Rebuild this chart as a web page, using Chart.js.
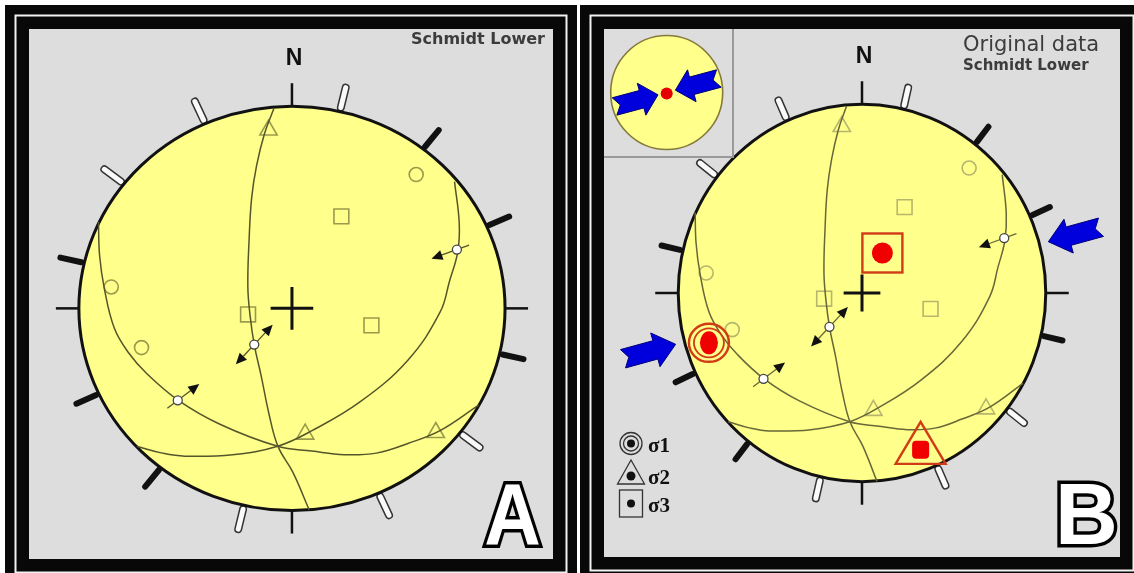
<!DOCTYPE html>
<html>
<head>
<meta charset="utf-8">
<title>Stereonets A / B</title>
<script src="https://cdn.jsdelivr.net/npm/chart.js@4.4.1/dist/chart.umd.min.js"></script>
<style>
  html, body { margin: 0; padding: 0; background: #fff; overflow: hidden; }
  body { width: 1134px; height: 573px; position: relative; }
  canvas { position: absolute; }
  #netA { left: 5px; top: 5px; }
  #netB { left: 580px; top: 5px; }
</style>
</head>
<body>
<canvas id="netA" width="572" height="578"></canvas>
<canvas id="netB" width="564" height="576"></canvas>
<script>
// ==========================================
// Net data - unit circle coordinates (x = east, y = north)
// ==========================================
const plane1X = [-0.084, -0.129, -0.166, -0.189, -0.201, -0.207, -0.196, -0.177, -0.144, -0.107, -0.065, 0.004, 0.081];
const plane1Y = [0.991, 0.864, 0.706, 0.548, 0.343, 0.106, -0.040, -0.179, -0.336, -0.526, -0.684, -0.810, -0.997];
const plane2X = [-0.908, -0.903, -0.881, -0.833, -0.765, -0.683, -0.533, -0.338, -0.067, 0.094, 0.246, 0.396, 0.544, 0.695, 0.876];
const plane2Y = [0.427, 0.265, 0.100, -0.100, -0.222, -0.321, -0.455, -0.573, -0.682, -0.706, -0.724, -0.716, -0.668, -0.605, -0.479];
const plane3X = [-0.728, -0.608, -0.503, -0.279, -0.067, 0.094, 0.319, 0.544, 0.695, 0.740, 0.778, 0.785, 0.763];
const plane3Y = [-0.682, -0.716, -0.731, -0.724, -0.682, -0.605, -0.463, -0.256, -0.019, 0.137, 0.280, 0.422, 0.627];

// poles (triangles, circles, squares)
const triX = [-0.110, 0.062, 0.675];
const triY = [0.882, -0.622, -0.614];
const ringX = [0.583, -0.848, -0.706];
const ringY = [0.662, 0.106, -0.194];
const boxX = [0.232, -0.206, 0.373];
const boxY = [0.455, -0.030, -0.084];

// slip lineations on the planes
const slipX = [0.774, -0.177, -0.536];
const slipY = [0.291, -0.179, -0.455];
const slipDir = [200, 47, 37];          // screen angle, deg anticlockwise from east
const slipTwoWay = [false, true, false];

// marks round the primitive (azimuth, deg)
const solidAz = [38, 66, 103, 218, 245, 283];
const hollowAz = [13, 128, 156, 193, 308, 336];

// principal stresses
const sigmaNames = ['σ1', 'σ2', 'σ3'];
const sigmaX = [-0.833, 0.319, 0.111];
const sigmaY = [-0.264, -0.831, 0.212];
const shortenAz = 75;

// ==========================================
// Colours
// ==========================================
const GREY = '#dddddd';
const YELLOW = '#ffff8c';
const INK = '#111111';
const RED = '#f00000';
const RED_EDGE = '#d03c16';
const BLUE = '#0000dc';

function pts(xs, ys) {
    return xs.map((x, i) => ({ x, y: ys[i] }));
}

// ==========================================
// Drawing helpers
// ==========================================
function geom(chart) {
    const xs = chart.scales.x, ys = chart.scales.y;
    const cx = xs.getPixelForValue(0), cy = ys.getPixelForValue(0);
    return {
        cx, cy,
        rx: xs.getPixelForValue(1) - cx,
        ry: cy - ys.getPixelForValue(1),
        P: (x, y) => [xs.getPixelForValue(x), ys.getPixelForValue(y)]
    };
}

function drawFrame(ctx, w, h) {
    ctx.fillStyle = '#080808';
    ctx.fillRect(0, 0, w, h);
    ctx.strokeStyle = '#f2f2f2';
    ctx.lineWidth = 2;
    ctx.strokeRect(10.5, 10.5, w - 21, h - 21);
    ctx.fillStyle = GREY;
    ctx.fillRect(24, 24, w - 48, h - 48);
}

function azTick(ctx, g, az, from, len) {
    const a = az * Math.PI / 180;
    const ux = Math.sin(a), uy = Math.cos(a);
    const [bx, by] = g.P(ux, uy);
    let dx = ux * g.rx, dy = -uy * g.ry;
    const d = Math.hypot(dx, dy);
    dx /= d; dy /= d;
    ctx.beginPath();
    ctx.moveTo(bx + dx * from, by + dy * from);
    ctx.lineTo(bx + dx * (from + len), by + dy * (from + len));
    ctx.stroke();
}

function drawNetBase(ctx, g) {
    const tickLen = 0.118 * (g.rx + g.ry) / 2;

    // disc
    ctx.fillStyle = YELLOW;
    ctx.beginPath();
    ctx.ellipse(g.cx, g.cy, g.rx, g.ry, 0, 0, Math.PI * 2);
    ctx.fill();

    // N / E / S / W marks
    ctx.strokeStyle = INK;
    ctx.lineWidth = 2.5;
    ctx.lineCap = 'butt';
    [0, 90, 180, 270].forEach(az => azTick(ctx, g, az, 0, 23));

    // solid marks
    ctx.lineCap = 'round';
    ctx.lineWidth = 6;
    ctx.strokeStyle = INK;
    solidAz.forEach(az => azTick(ctx, g, az, 3, tickLen - 3));

    // hollow marks
    hollowAz.forEach(az => {
        ctx.lineWidth = 8;
        ctx.strokeStyle = '#333';
        azTick(ctx, g, az, 4, tickLen - 4);
        ctx.lineWidth = 5;
        ctx.strokeStyle = '#fafafa';
        azTick(ctx, g, az, 4, tickLen - 4);
    });
    ctx.lineCap = 'butt';

    // primitive
    ctx.strokeStyle = INK;
    ctx.lineWidth = 3;
    ctx.beginPath();
    ctx.ellipse(g.cx, g.cy, g.rx, g.ry, 0, 0, Math.PI * 2);
    ctx.stroke();

    // centre cross
    const arm = 0.1 * g.rx;
    ctx.lineWidth = 3;
    ctx.beginPath();
    ctx.moveTo(g.cx - arm, g.cy); ctx.lineTo(g.cx + arm, g.cy);
    ctx.moveTo(g.cx, g.cy - arm); ctx.lineTo(g.cx, g.cy + arm);
    ctx.stroke();

    // north label
    ctx.fillStyle = INK;
    ctx.font = "bold 23px 'Liberation Sans', Arial, sans-serif";
    ctx.textAlign = 'center';
    ctx.textBaseline = 'alphabetic';
    ctx.fillText('N', g.cx + 2, g.cy - g.ry - 41);
}

function drawSlips(ctx, g, edge) {
    slipX.forEach((x, i) => {
        const [px, py] = g.P(x, slipY[i]);
        const a = slipDir[i] * Math.PI / 180;
        const dx = Math.cos(a), dy = -Math.sin(a);
        const back = slipTwoWay[i] ? 16 : 13;
        ctx.strokeStyle = edge;
        ctx.lineWidth = 1.3;
        ctx.beginPath();
        ctx.moveTo(px - dx * back, py - dy * back);
        ctx.lineTo(px + dx * 18, py + dy * 18);
        ctx.stroke();
        const heads = slipTwoWay[i] ? [1, -1] : [1];
        ctx.fillStyle = INK;
        heads.forEach(s => {
            const tx = px + s * dx * 27, ty = py + s * dy * 27;
            const bx = px + s * dx * 16, by = py + s * dy * 16;
            ctx.beginPath();
            ctx.moveTo(tx, ty);
            ctx.lineTo(bx - dy * 5, by + dx * 5);
            ctx.lineTo(bx + dy * 5, by - dx * 5);
            ctx.closePath();
            ctx.fill();
        });
        ctx.fillStyle = '#ffffff';
        ctx.strokeStyle = '#444';
        ctx.lineWidth = 1.3;
        ctx.beginPath();
        ctx.arc(px, py, 4.5, 0, Math.PI * 2);
        ctx.fill();
        ctx.stroke();
    });
}

// outlined panel letter: black stroke behind a white glyph
function bigLetter(ctx, ch, x, y, sx) {
    ctx.save();
    ctx.translate(x, y);
    ctx.scale(sx, 1);
    ctx.font = "bold 87px 'Liberation Sans', Arial, sans-serif";
    ctx.textAlign = 'center';
    ctx.textBaseline = 'alphabetic';
    ctx.lineJoin = 'miter';
    ctx.miterLimit = 4;
    ctx.strokeStyle = '#000';
    ctx.lineWidth = 7;
    ctx.strokeText(ch, 0, 0);
    ctx.fillStyle = '#fff';
    ctx.fillText(ch, 0, 0);
    ctx.restore();
}

function blockArrow(ctx, x0, y0, x1, y1, shaft, head, headLen) {
    const len = Math.hypot(x1 - x0, y1 - y0);
    const ux = (x1 - x0) / len, uy = (y1 - y0) / len;
    const nx = -uy, ny = ux;
    const bx = x1 - ux * headLen, by = y1 - uy * headLen;
    ctx.beginPath();
    ctx.moveTo(x1, y1);
    ctx.lineTo(bx + nx * head / 2, by + ny * head / 2);
    ctx.lineTo(bx + nx * shaft / 2, by + ny * shaft / 2);
    ctx.lineTo(x0 + nx * shaft / 2 - ux * 3, y0 + ny * shaft / 2 - uy * 3);
    ctx.lineTo(x0 + ux * 3, y0 + uy * 3);
    ctx.lineTo(x0 - nx * shaft / 2 - ux * 3, y0 - ny * shaft / 2 - uy * 3);
    ctx.lineTo(bx - nx * shaft / 2, by - ny * shaft / 2);
    ctx.lineTo(bx - nx * head / 2, by - ny * head / 2);
    ctx.closePath();
    ctx.fillStyle = BLUE;
    ctx.fill();
    ctx.strokeStyle = '#00007a';
    ctx.lineWidth = 1;
    ctx.stroke();
}

function sigmaSymbol(ctx, k, x, y, big) {
    if (big) {
        ctx.strokeStyle = RED_EDGE;
        ctx.fillStyle = RED;
        ctx.lineWidth = 2.4;
        if (k === 0) {
            ctx.beginPath(); ctx.ellipse(x, y, 20, 19, 0, 0, Math.PI * 2); ctx.stroke();
            ctx.lineWidth = 1.8;
            ctx.beginPath(); ctx.ellipse(x, y, 15, 14.5, 0, 0, Math.PI * 2); ctx.stroke();
            ctx.beginPath(); ctx.ellipse(x, y, 9, 11.5, 0, 0, Math.PI * 2); ctx.fill();
        } else if (k === 1) {
            ctx.beginPath();
            ctx.moveTo(x, y - 28);
            ctx.lineTo(x + 25, y + 14);
            ctx.lineTo(x - 25, y + 14);
            ctx.closePath();
            ctx.stroke();
            ctx.beginPath();
            ctx.roundRect(x - 8.5, y - 9, 17, 18, 4);
            ctx.fill();
        } else {
            ctx.strokeRect(x - 20, y - 19.5, 40, 39);
            ctx.beginPath(); ctx.arc(x, y, 10.5, 0, Math.PI * 2); ctx.fill();
        }
        return;
    }
    // small legend icons
    ctx.strokeStyle = '#333';
    ctx.fillStyle = '#111';
    ctx.lineWidth = 1.3;
    if (k === 0) {
        ctx.beginPath(); ctx.arc(x, y, 11, 0, Math.PI * 2); ctx.stroke();
        ctx.beginPath(); ctx.arc(x, y, 7.5, 0, Math.PI * 2); ctx.stroke();
        ctx.beginPath(); ctx.arc(x, y, 4, 0, Math.PI * 2); ctx.fill();
    } else if (k === 1) {
        ctx.beginPath();
        ctx.moveTo(x, y - 15); ctx.lineTo(x + 13.5, y + 9); ctx.lineTo(x - 13.5, y + 9);
        ctx.closePath(); ctx.stroke();
        ctx.beginPath(); ctx.arc(x, y + 1, 4.5, 0, Math.PI * 2); ctx.fill();
    } else {
        ctx.strokeRect(x - 11.5, y - 13.5, 23, 27);
        ctx.beginPath(); ctx.arc(x, y, 4, 0, Math.PI * 2); ctx.fill();
    }
}

function drawStressExtras(ctx, g) {
    // stress axes
    sigmaX.forEach((x, k) => {
        const [px, py] = g.P(x, sigmaY[k]);
        sigmaSymbol(ctx, k, px, py, true);
    });

    // shortening arrows outside the primitive
    [shortenAz, shortenAz + 180].forEach(az => {
        const a = az * Math.PI / 180;
        const [x0, y0] = g.P(Math.sin(a) * 1.33, Math.cos(a) * 1.33);
        const [x1, y1] = g.P(Math.sin(a) * 1.05, Math.cos(a) * 1.05);
        blockArrow(ctx, x0, y0, x1, y1, 19, 35, 21);
    });

    // inset: mean shortening
    ctx.fillStyle = GREY;
    ctx.fillRect(24, 24, 129, 128);
    ctx.strokeStyle = '#9a9a9a';
    ctx.lineWidth = 2;
    ctx.beginPath();
    ctx.moveTo(153, 24); ctx.lineTo(153, 152); ctx.lineTo(24, 152);
    ctx.stroke();
    const ix = 86.7, iy = 87.5;
    ctx.fillStyle = YELLOW;
    ctx.strokeStyle = '#857a3a';
    ctx.lineWidth = 1.6;
    ctx.beginPath();
    ctx.ellipse(ix, iy, 56, 57, 0, 0, Math.PI * 2);
    ctx.fill();
    ctx.stroke();
    [shortenAz, shortenAz + 180].forEach(az => {
        const a = az * Math.PI / 180;
        const ux = Math.sin(a), uy = -Math.cos(a);
        blockArrow(ctx, ix + ux * 51, iy + uy * 51, ix + ux * 9, iy + uy * 9, 18, 33, 17);
    });
    ctx.fillStyle = '#e40000';
    ctx.beginPath(); ctx.arc(ix, iy + 1, 6, 0, Math.PI * 2); ctx.fill();

    // legend
    const rows = [438.5, 470, 498.5];
    sigmaNames.forEach((name, k) => {
        sigmaSymbol(ctx, k, 51, rows[k], false);
        ctx.fillStyle = '#111';
        ctx.font = "bold 21px 'Liberation Serif', 'Times New Roman', serif";
        ctx.textAlign = 'left';
        ctx.textBaseline = 'alphabetic';
        ctx.fillText(name, 68, rows[k] + 8.5);
    });
}

// ==========================================
// Chart factory
// ==========================================
function makeNet(id, view) {
    const canvas = document.getElementById(id);
    const W = canvas.width, H = canvas.height;

    const planeSet = (xs, ys) => ({
        data: pts(xs, ys),
        showLine: true,
        tension: 0.4,
        borderColor: view.line,
        borderWidth: 1.5,
        pointRadius: 0,
        fill: false
    });
    const poleSet = (xs, ys, style, r) => ({
        data: pts(xs, ys),
        pointStyle: style,
        pointRadius: r,
        borderColor: view.mark,
        backgroundColor: 'rgba(0,0,0,0)',
        borderWidth: 1.6
    });

    const netPlugin = {
        id: 'net' + id,
        beforeDatasetsDraw(chart) {
            const ctx = chart.ctx;
            const g = geom(chart);
            ctx.save();
            drawFrame(ctx, chart.width, chart.height);
            drawNetBase(ctx, g);
            ctx.restore();
        },
        afterDatasetsDraw(chart) {
            const ctx = chart.ctx;
            const g = geom(chart);
            ctx.save();
            drawSlips(ctx, g, view.line);
            ctx.fillStyle = '#3c3c3c';
            ctx.textAlign = 'left';
            ctx.textBaseline = 'alphabetic';
            view.titles.forEach(t => {
                ctx.font = t.font;
                ctx.fillText(t.text, t.x, t.y);
            });
            if (view.stress) drawStressExtras(ctx, g);
            bigLetter(ctx, view.letter, view.letterX, 539, view.letterScale);
            ctx.restore();
        }
    };

    return new Chart(canvas, {
        type: 'scatter',
        data: {
            datasets: [
                planeSet(plane1X, plane1Y),
                planeSet(plane2X, plane2Y),
                planeSet(plane3X, plane3Y),
                poleSet(triX, triY, 'triangle', 10),
                poleSet(ringX, ringY, 'circle', 7),
                poleSet(boxX, boxY, 'rect', 10.5)
            ]
        },
        options: {
            responsive: false,
            animation: false,
            events: [],
            layout: { padding: 0 },
            plugins: {
                legend: { display: false },
                tooltip: { enabled: false }
            },
            scales: {
                x: { type: 'linear', display: false, min: -view.cx / view.rx, max: (W - view.cx) / view.rx },
                y: { type: 'linear', display: false, min: -(H - view.cy) / view.ry, max: view.cy / view.ry }
            }
        },
        plugins: [netPlugin]
    });
}

makeNet('netA', {
    cx: 287, cy: 304, rx: 222.5, ry: 211,
    line: '#55552a', mark: '#9a9a4c',
    titles: [{ text: 'Schmidt Lower', x: 406, y: 39, font: "bold 16px 'DejaVu Sans', Verdana, sans-serif" }],
    stress: false,
    letter: 'A', letterX: 507.5, letterScale: 0.9
});

makeNet('netB', {
    cx: 282, cy: 288, rx: 192, ry: 197,
    line: '#676738', mark: '#b6b66c',
    titles: [
        { text: 'Original data', x: 383, y: 46, font: "21px 'DejaVu Sans', Verdana, sans-serif" },
        { text: 'Schmidt Lower', x: 383, y: 65, font: "bold 15px 'DejaVu Sans', Verdana, sans-serif" }
    ],
    stress: true,
    letter: 'B', letterX: 506.5, letterScale: 1
});
</script>
</body>
</html>
